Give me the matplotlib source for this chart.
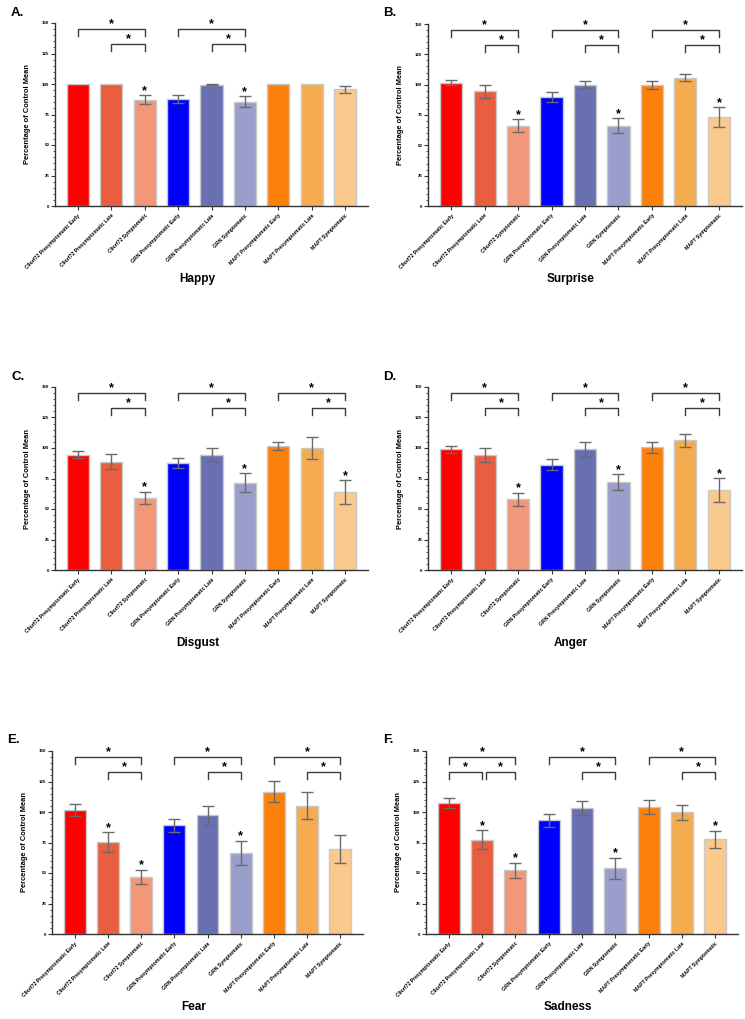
import matplotlib
matplotlib.use('Agg')
import matplotlib.pyplot as plt
from matplotlib.ticker import MultipleLocator, FixedLocator

plt.rcParams['font.family'] = ['Liberation Sans', 'DejaVu Sans']

categories = ["C9orf72 Presymptomatic Early", "C9orf72 Presymptomatic Late", "C9orf72 Symptomatic",
              "GRN Presymptomatic Early", "GRN Presymptomatic Late", "GRN Symptomatic",
              "MAPT Presymptomatic Early", "MAPT Presymptomatic Late", "MAPT Symptomatic"]
bar_colors = ["#fe0000", "#e95d40", "#f29779", "#0000fe", "#6870b2", "#9a9ecb",
              "#fd800a", "#f5ab4f", "#fac98e"]

happy_mean = [100, 100, 87.2, 88.0, 99.3, 85.5, 100, 100, 95.5]
happy_err = [0, 0, 3.5, 3.2, 0.5, 4.4, 0, 0, 2.7]
happy_star = [0, 0, 1, 0, 0, 1, 0, 0, 0]
happy_brackets = [(0, 2, 0), (1, 2, 1), (3, 5, 0), (4, 5, 1)]

surprise_mean = [101.7, 94.4, 66.1, 89.7, 99.9, 66.3, 99.5, 105.8, 73.1]
surprise_err = [1.9, 5.6, 5.2, 4.1, 2.9, 6.0, 3.3, 3.0, 8.3]
surprise_star = [0, 0, 1, 0, 0, 1, 0, 0, 1]
surprise_brackets = [(0, 2, 0), (1, 2, 1), (3, 5, 0), (4, 5, 1), (6, 8, 0), (7, 8, 1)]

disgust_mean = [94.6, 88.8, 59.1, 87.4, 94.6, 71.5, 101.7, 99.9, 63.6]
disgust_err = [3.0, 5.9, 5.2, 4.2, 5.5, 7.7, 3.6, 8.8, 9.9]
disgust_star = [0, 0, 1, 0, 0, 1, 0, 0, 1]
disgust_brackets = [(0, 2, 0), (1, 2, 1), (3, 5, 0), (4, 5, 1), (6, 8, 0), (7, 8, 1)]

anger_mean = [98.9, 94.2, 57.9, 86.3, 98.9, 72.1, 100.8, 106.5, 65.4]
anger_err = [2.7, 6.0, 5.5, 4.4, 5.9, 6.6, 4.5, 5.3, 9.7]
anger_star = [0, 0, 1, 0, 0, 1, 0, 0, 1]
anger_brackets = [(0, 2, 0), (1, 2, 1), (3, 5, 0), (4, 5, 1), (6, 8, 0), (7, 8, 1)]

fear_mean = [101.5, 75.6, 46.7, 89.0, 97.3, 66.4, 116.6, 105.1, 70.0]
fear_err = [4.8, 8.0, 5.9, 5.4, 7.8, 10.1, 8.7, 11.2, 11.5]
fear_star = [0, 1, 1, 0, 0, 1, 0, 0, 0]
fear_brackets = [(0, 2, 0), (1, 2, 1), (3, 5, 0), (4, 5, 1), (6, 8, 0), (7, 8, 1)]

sadness_mean = [107.3, 77.3, 52.3, 93.1, 103.2, 53.9, 104.0, 99.6, 77.5]
sadness_err = [4.2, 7.9, 6.0, 5.0, 6.0, 8.6, 6.0, 6.5, 7.2]
sadness_star = [0, 1, 1, 0, 0, 1, 0, 0, 1]
sadness_brackets = [(0, 2, 0), (0, 1, 1), (1, 2, 1), (3, 5, 0), (4, 5, 1), (6, 8, 0), (7, 8, 1)]

panel_letters = ["A.", "B.", "C.", "D.", "E.", "F."]
panel_titles = ["Happy", "Surprise", "Disgust", "Anger", "Fear", "Sadness"]
y_ticks = [0, 25, 50, 75, 100, 125, 150]

W, H = 745, 1019
fig = plt.figure(figsize=(W / 100, H / 100), dpi=100)

# pixel boxes (left, top, right, bottom)
boxes = [(55, 23, 368, 206), (428, 24, 742, 206),
         (55, 387, 368, 570), (428, 387, 742, 570),
         (52, 751, 363, 934), (426, 751, 738, 934)]
letter_pos = [(11, 13), (383, 13), (11, 377), (383, 377), (7, 740), (383, 740)]
ylabel_x = [28, 401, 28, 401, 24, 398]

data = [
    (happy_mean, happy_err, happy_star, happy_brackets),
    (surprise_mean, surprise_err, surprise_star, surprise_brackets),
    (disgust_mean, disgust_err, disgust_star, disgust_brackets),
    (anger_mean, anger_err, anger_star, anger_brackets),
    (fear_mean, fear_err, fear_star, fear_brackets),
    (sadness_mean, sadness_err, sadness_star, sadness_brackets),
]

bracket_levels = [145, 133]
tick_drop = 6
line_col = "#3c3c3c"
err_col = "#6a6a6a"

for k in range(6):
    l, t, r, b = boxes[k]
    ax = fig.add_axes([l / W, 1 - b / H, (r - l) / W, (b - t) / H])
    mean, err, star, brackets = data[k]
    x = list(range(len(categories)))
    ax.bar(x, mean, width=0.66, color=bar_colors, edgecolor="#c9c9c9", linewidth=1.0, zorder=2)
    xe = [i for i in x if err[i] > 0]
    ax.errorbar(xe, [mean[i] for i in xe], yerr=[err[i] for i in xe], fmt='none',
                ecolor=err_col, elinewidth=1.0, capsize=4, capthick=1.0, zorder=3)
    for i in x:
        if star[i]:
            ax.text(i, mean[i] + err[i] + 3.5, "*", ha='center', va='center',
                    fontsize=9, fontweight='bold', color='black', zorder=4)
    for (i, j, lev) in brackets:
        yb = bracket_levels[lev]
        xi, xj = i, j
        if (j - i) == 1 and any(bb[0] == i - 1 and bb[1] == i and bb[2] == lev for bb in brackets):
            xi = i + 0.1
        ax.plot([xi, xi, xj, xj], [yb - tick_drop, yb, yb, yb - tick_drop],
                color=line_col, linewidth=1.0, clip_on=False, zorder=4)
        ax.text((xi + xj) / 2, yb + 4, "*", ha='center', va='center',
                fontsize=9, fontweight='bold', color='black')
    ax.set_xlim(-0.69, 8.69)
    ax.set_ylim(0, 150)
    ax.spines['top'].set_visible(False)
    ax.spines['right'].set_visible(False)
    ax.spines['left'].set_bounds(0, 150)
    for s in ['left', 'bottom']:
        ax.spines[s].set_linewidth(1.0)
        ax.spines[s].set_color('#333333')
    ax.yaxis.set_major_locator(FixedLocator(y_ticks))
    ax.yaxis.set_minor_locator(MultipleLocator(5))
    ax.set_yticklabels([str(v) for v in y_ticks], fontsize=3.2, fontweight='bold')
    ax.tick_params(axis='y', which='major', length=3, width=0.8, pad=1, color='#333333')
    ax.tick_params(axis='y', which='minor', length=1.5, width=0.6, color='#333333')
    ax.set_xticks(x)
    ax.set_xticklabels(categories, rotation=45, ha='right', rotation_mode='anchor',
                       fontsize=3.7, fontweight='bold')
    ax.tick_params(axis='x', length=3, width=0.8, pad=2, color='#333333')
    fig.text(ylabel_x[k] / W, 1 - ((t + b) / 2) / H, "Percentage of Control Mean",
             rotation=90, ha='center', va='center', fontsize=5.4, fontweight='bold')
    fig.text(((l + r) / 2 - 14) / W, 1 - (b + 73) / H, panel_titles[k],
             ha='center', va='center', fontsize=8.5, fontweight='bold')
    fig.text(letter_pos[k][0] / W, 1 - letter_pos[k][1] / H, panel_letters[k],
             ha='left', va='center', fontsize=9.5, fontweight='bold')

fig.savefig("out.png", dpi=100)
